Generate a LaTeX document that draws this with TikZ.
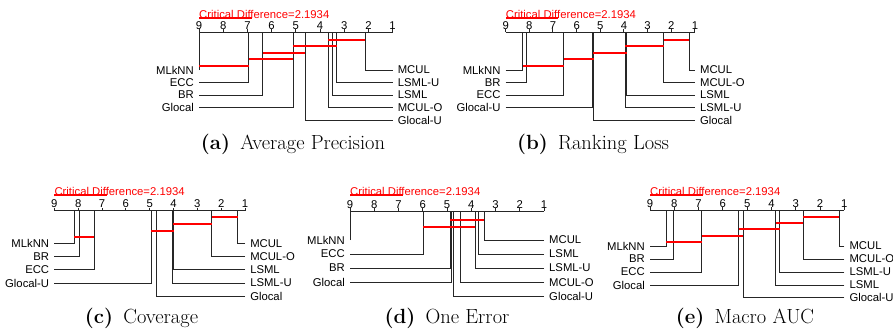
\documentclass[tikz,border=0pt]{standalone}
\usepackage{fontspec}
\newfontfamily\cdfont{Liberation Sans}
\usetikzlibrary{arrows.meta}

\tikzset{
  lbl/.style={font=\cdfont\fontsize{11.3}{13}\selectfont, inner sep=0pt},
  num/.style={font=\cdfont\fontsize{11.3}{13}\selectfont, inner sep=0pt},
  link/.style={line width=1pt, black!85},
  cdbar/.style={line width=1.6pt, red, {Bar[width=2.5pt]}-{Bar[width=2.5pt]}},
  cdtext/.style={font=\cdfont\fontsize{11.3}{13}\selectfont, text=red, inner sep=0pt, anchor=west},
  caption/.style={font=\fontsize{20.5}{22}\selectfont, inner sep=0pt}
}

% axis, ticks and the critical difference of one panel
\newcommand{\cdaxis}[3]{%
  \draw[link] (9,#2) -- (1,#2);
  \foreach \i in {1,...,9} {
    \draw[link] (\i,#2) -- (\i,#2-3);
    \node[num] (#1-t\i) at (\i,#2-6.5) {\i};
  }
  \node[cdtext] (#1-cd) at (9,#3) {Critical Difference=2.1934};
  \draw[cdbar] (9,#3+4) -- (6.8066,#3+4);
}

\begin{document}
\begin{tikzpicture}[x=1pt,y=-1pt]
  \useasboundingbox (0,0) rectangle (893,333);

  % (a)
  \begin{scope}[xshift=416.8pt, x=-24.2pt]
    \cdaxis{a}{32}{14}
    \foreach \r/\n/\y in {9.00/MLkNN/70, 6.95/ECC/82.5, 6.37/BR/95, 5.10/Glocal/107.5} {
      \node[lbl, anchor=east] (a-\n) at ([xshift=-5pt]9,\y) {\n};
      \draw[link] ([xshift=5pt]a-\n.east) -| (\r,32);
    }
    \foreach \r/\n/\y in {2.14/MCUL/70, 3.31/LSML-U/82.5, 3.48/LSML/95, 3.66/MCUL-O/107.5, 4.62/Glocal-U/120} {
      \node[lbl, anchor=west] (a-\n) at ([xshift=5pt]1,\y) {\n};
      \draw[link] ([xshift=-5pt]a-\n.west) -| (\r,32);
    }
    \foreach \p/\q/\y in {3.66/2.14/40, 5.10/3.31/46, 6.37/4.62/53, 6.95/5.10/59, 9.00/6.95/66}
      \draw[cdbar] (\p,\y) -- (\q,\y);
  \end{scope}

  % (b)
  \begin{scope}[xshift=718.6pt, x=-23.66pt]
    \cdaxis{b}{32}{14}
    \foreach \r/\n/\y in {8.28/MLkNN/70, 8.14/BR/82.5, 6.54/ECC/95, 5.32/Glocal-U/107.5} {
      \node[lbl, anchor=east] (b-\n) at ([xshift=-5pt]9,\y) {\n};
      \draw[link] ([xshift=5pt]b-\n.east) -| (\r,32);
    }
    \foreach \r/\n/\y in {1.24/MCUL/70, 2.31/MCUL-O/82.5, 3.89/LSML/95, 3.94/LSML-U/107.5, 5.27/Glocal/120} {
      \node[lbl, anchor=west] (b-\n) at ([xshift=5pt]1,\y) {\n};
      \draw[link] ([xshift=-5pt]b-\n.west) -| (\r,32);
    }
    \foreach \p/\q/\y in {2.31/1.24/40, 3.94/2.31/46, 5.32/3.89/53, 6.54/5.27/59, 8.28/6.54/66}
      \draw[cdbar] (\p,\y) -- (\q,\y);
  \end{scope}

  % (c)
  \begin{scope}[xshift=268.9pt, x=-23.84pt]
    \cdaxis{c}{210.5}{191}
    \foreach \r/\n/\y in {8.17/MLkNN/243.5, 7.96/BR/256.5, 7.33/ECC/269.5, 4.94/Glocal-U/283} {
      \node[lbl, anchor=east] (c-\n) at ([xshift=-5pt]9,\y) {\n};
      \draw[link] ([xshift=5pt]c-\n.east) -| (\r,210.5);
    }
    \foreach \r/\n/\y in {1.31/MCUL/243.5, 2.39/MCUL-O/256.5, 4.00/LSML/269.5, 4.04/LSML-U/283, 4.70/Glocal/296} {
      \node[lbl, anchor=west] (c-\n) at ([xshift=5pt]1,\y) {\n};
      \draw[link] ([xshift=-5pt]c-\n.west) -| (\r,210.5);
    }
    \foreach \p/\q/\y in {2.39/1.31/217, 4.04/2.39/224, 4.94/4.00/231, 8.17/7.33/237}
      \draw[cdbar] (\p,\y) -- (\q,\y);
  \end{scope}

  % (d)
  \begin{scope}[xshift=568.25pt, x=-24.25pt]
    \cdaxis{d}{211}{191}
    \foreach \r/\n/\y in {9.00/MLkNN/240, 5.98/ECC/254, 4.86/BR/268, 4.80/Glocal/282.5} {
      \node[lbl, anchor=east] (d-\n) at ([xshift=-5pt]9,\y) {\n};
      \draw[link] ([xshift=5pt]d-\n.east) -| (\r,211);
    }
    \foreach \r/\n/\y in {3.46/MCUL/240, 3.70/LSML/254, 3.84/LSML-U/268, 4.46/MCUL-O/282.5, 4.74/Glocal-U/296.7} {
      \node[lbl, anchor=west] (d-\n) at ([xshift=5pt]1,\y) {\n};
      \draw[link] ([xshift=-5pt]d-\n.west) -| (\r,211);
    }
    \foreach \p/\q/\y in {4.86/3.46/220, 5.98/3.84/227}
      \draw[cdbar] (\p,\y) -- (\q,\y);
  \end{scope}

  % (e)
  \begin{scope}[xshift=868.6pt, x=-24.29pt]
    \cdaxis{e}{210}{191}
    \foreach \r/\n/\y in {8.34/MLkNN/246, 8.04/BR/259, 6.86/ECC/272, 5.35/Glocal/285} {
      \node[lbl, anchor=east] (e-\n) at ([xshift=-5pt]9,\y) {\n};
      \draw[link] ([xshift=5pt]e-\n.east) -| (\r,210);
    }
    \foreach \r/\n/\y in {1.21/MCUL/246, 2.69/MCUL-O/259, 3.66/LSML-U/272, 3.83/LSML/285, 5.16/Glocal-U/297.5} {
      \node[lbl, anchor=west] (e-\n) at ([xshift=5pt]1,\y) {\n};
      \draw[link] ([xshift=-5pt]e-\n.west) -| (\r,210);
    }
    \foreach \p/\q/\y in {2.69/1.21/217, 3.83/2.69/223, 5.35/3.66/229, 6.86/5.16/236, 8.34/6.86/242}
      \draw[cdbar] (\p,\y) -- (\q,\y);
  \end{scope}

  % sub-captions
  \node[caption] (capa) at (293,144) {\textbf{(a)}\enspace Average Precision};
  \node[caption] (capb) at (593,144) {\textbf{(b)}\enspace Ranking Loss};
  \node[caption] (capc) at (141.5,318.5) {\textbf{(c)}\enspace Coverage};
  \node[caption] (capd) at (447,318.5) {\textbf{(d)}\enspace One Error};
  \node[caption] (cape) at (745,318.5) {\textbf{(e)}\enspace Macro AUC};
\end{tikzpicture}
\end{document}
